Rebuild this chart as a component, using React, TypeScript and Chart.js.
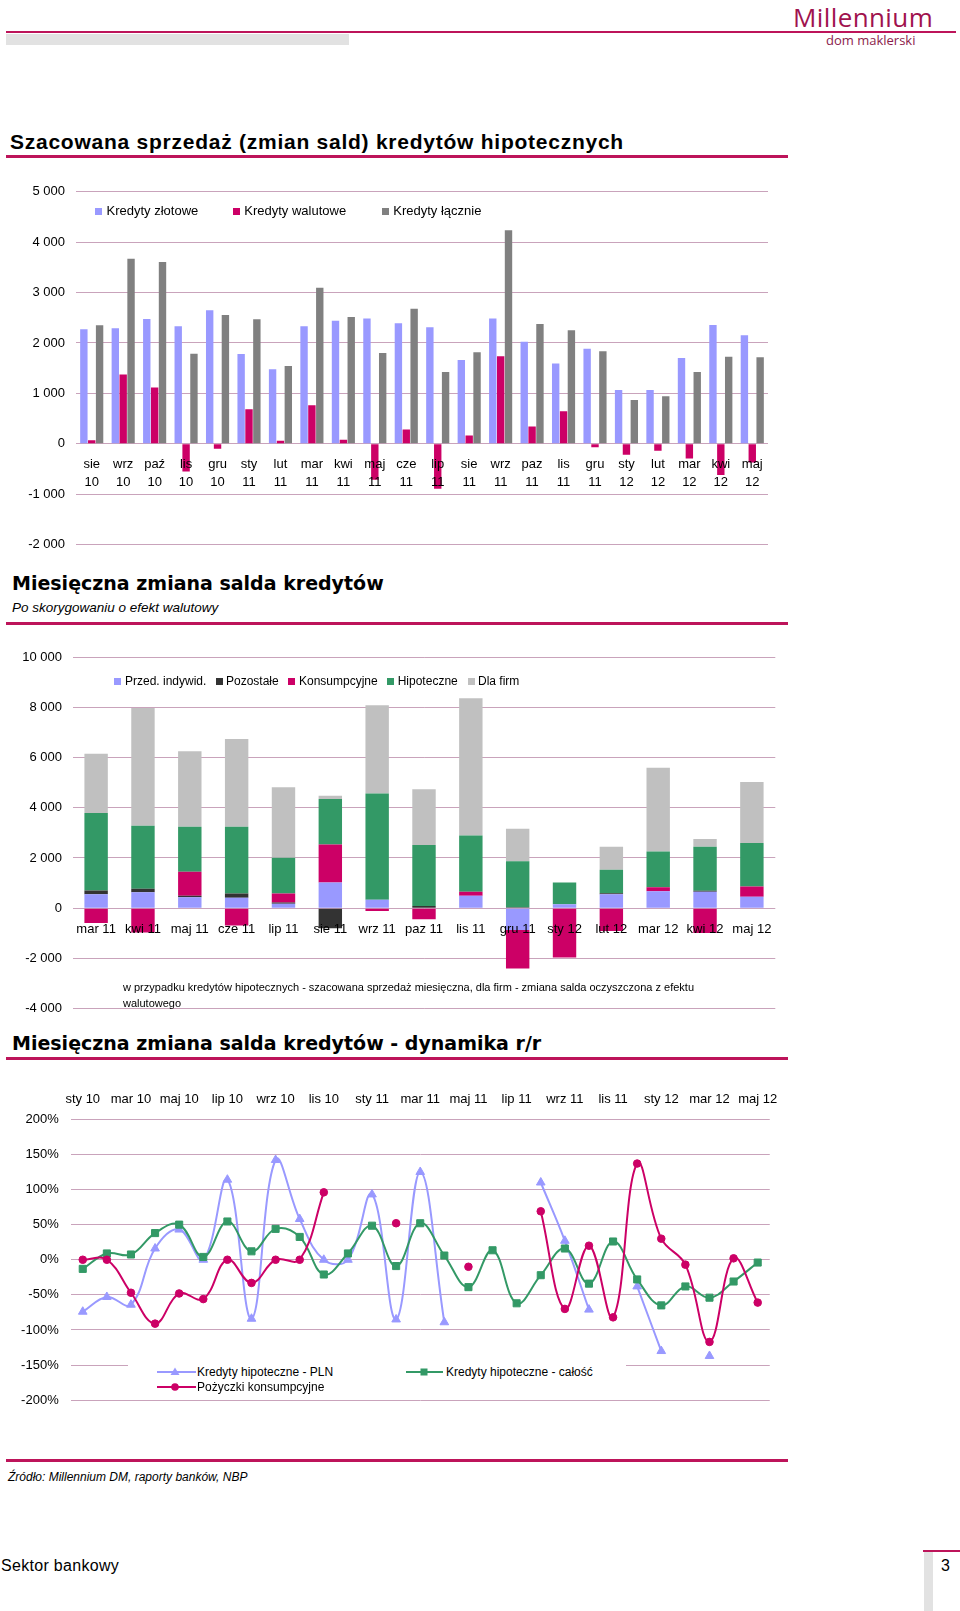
import React, { useEffect, useRef } from 'react';
import { Chart, registerables } from 'chart.js';

Chart.register(...registerables);

const FONT = '"Liberation Sans", Arial, Helvetica, sans-serif';
const TITLE_FONT = '"DejaVu Sans", Verdana, sans-serif';
Chart.defaults.font.family = FONT;
Chart.defaults.color = '#000';

const GRID = '#c9a3bb';
const ACCENT = '#bd145a';
const BLUE = '#9999ff';
const PINK = '#cc0066';
const GREY = '#808080';
const DARK = '#333333';
const GREEN = '#339966';
const LIGHT = '#c0c0c0';

// ---------- Chart 1: Szacowana sprzedaż (zmian sald) kredytów hipotecznych ----------
const months1 = [
  'sie 10', 'wrz 10', 'paź 10', 'lis 10', 'gru 10', 'sty 11', 'lut 11', 'mar 11', 'kwi 11', 'maj 11', 'cze 11',
  'lip 11', 'sie 11', 'wrz 11', 'paz 11', 'lis 11', 'gru 11', 'sty 12', 'lut 12', 'mar 12', 'kwi 12', 'maj 12',
];
const kredytyZlotowe = [2271, 2290, 2475, 2330, 2647, 1782, 1479, 2330, 2442, 2488, 2389, 2310, 1663, 2488, 2026, 1591, 1888, 1069, 1069, 1703, 2356, 2152];
const kredytyWalutowe = [73, 1373, 1115, -548, -99, 686, 59, 766, 79, -713, 284, -891, 165, 1736, 343, 647, -66, -218, -139, -290, -620, -370];
const kredytyLacznie = [2350, 3670, 3604, 1789, 2554, 2469, 1545, 3096, 2515, 1802, 2680, 1426, 1815, 4238, 2376, 2251, 1835, 871, 944, 1426, 1729, 1716];

// ---------- Chart 2: Miesięczna zmiana salda kredytów ----------
const months2 = ['mar 11', 'kwi 11', 'maj 11', 'cze 11', 'lip 11', 'sie 11', 'wrz 11', 'paz 11', 'lis 11', 'gru 11', 'sty 12', 'lut 12', 'mar 12', 'kwi 12', 'maj 12'];
const przedIndywid = [560, 640, 440, 413, 173, 1027, 333, 0, 493, -867, 160, 560, 678, 651, 452];
const pozostale = [147, 133, 53, 174, 54, -800, 0, 90, 0, 40, 0, 40, 0, 40, 0];
const konsumpcyjne = [-585, -970, 960, -693, 360, 1511, -107, -440, 160, -1533, -1960, -907, 159, -983, 412];
const hipoteczne = [3080, 2509, 1790, 2656, 1420, 1808, 4238, 2422, 2244, 1834, 867, 933, 1422, 1754, 1727];
const dlaFirm = [2366, 4691, 3003, 3495, 2804, 132, 3509, 2219, 5462, 1289, 0, 912, 3336, 306, 2432];

// ---------- Chart 3: dynamika r/r ----------
const months3 = [
  'sty 10', 'lut 10', 'mar 10', 'kwi 10', 'maj 10', 'cze 10', 'lip 10', 'sie 10', 'wrz 10', 'paź 10', 'lis 10', 'gru 10',
  'sty 11', 'lut 11', 'mar 11', 'kwi 11', 'maj 11', 'cze 11', 'lip 11', 'sie 11', 'wrz 11', 'paz 11', 'lis 11', 'gru 11',
  'sty 12', 'lut 12', 'mar 12', 'kwi 12', 'maj 12',
];
const hipotecznePLN = [-74, -53, -64, 16, 43, 0, 114, -84, 142, 58, 0, 0, 93, -85, 125, -89, null, null, null, 110, 27, -71, null, -38, -130, null, -137, null, null];
const hipoteczneCalosc = [-13, 9, 7.5, 38, 50, 4, 54.5, 12, 44, 32.5, -21, 9, 48.5, -9, 52, 6, -39, 13.5, -62, -22, 16, -34, 26, -28, -65, -38, -54, -31, -4];
const pozyczkiKonsumpcyjne = [0, 0, -47, -91, -48, -56, 0, -33, 0, 0, 96, null, null, 52, null, null, -10, null, null, 69, -70, 20, -82, 137, 30, -7, -117, 2, -61];

function fmtThousands(v: number) {
  const sign = v < 0 ? '-' : '';
  const a = Math.abs(v);
  if (a >= 1000) return sign + Math.floor(a / 1000) + ' ' + String(a % 1000).padStart(3, '0');
  return sign + a;
}

function ChartBox({ left, top, width, height, make }: any) {
  const ref = useRef<HTMLCanvasElement>(null);
  useEffect(() => {
    const chart = new Chart(ref.current as HTMLCanvasElement, make());
    return () => chart.destroy();
  }, []);
  return (
    <canvas
      ref={ref}
      width={width}
      height={height}
      style={{ position: 'absolute', left, top, width, height, display: 'block' }}
    />
  );
}

const yGrid = { color: GRID, lineWidth: 1, drawTicks: false };

function makeChart1(): any {
  const common = { categoryPercentage: 0.75, barPercentage: 0.94 };
  return {
    type: 'bar',
    data: {
      labels: months1,
      datasets: [
        { label: 'Kredyty złotowe', data: kredytyZlotowe, backgroundColor: BLUE, ...common },
        { label: 'Kredyty walutowe', data: kredytyWalutowe, backgroundColor: PINK, ...common },
        { label: 'Kredyty łącznie', data: kredytyLacznie, backgroundColor: GREY, ...common },
      ],
    },
    options: {
      responsive: false,
      animation: false,
      layout: { padding: { left: 0, top: 21.7, right: 22, bottom: 25.3 } },
      plugins: { legend: { display: false }, tooltip: { enabled: false } },
      scales: {
        x: {
          position: { y: 0 },
          grid: { display: false, drawTicks: false },
          border: { display: false },
          ticks: {
            z: 1,
            autoSkip: false,
            maxRotation: 0,
            padding: 12,
            color: '#000',
            font: { size: 13, lineHeight: 1.385 },
            callback: (_v: any, i: number) => months1[i].split(' '),
          },
        },
        y: {
          min: -2000,
          max: 5000,
          grid: yGrid,
          border: { display: false },
          ticks: { stepSize: 1000, padding: 11, color: '#000', font: { size: 13 }, callback: (v: any) => fmtThousands(v) },
          afterFit: (s: any) => { s.width = 76; },
        },
      },
    },
  };
}

function makeChart2(): any {
  const common = { categoryPercentage: 0.5, barPercentage: 1 };
  return {
    type: 'bar',
    data: {
      labels: months2,
      datasets: [
        { label: 'Przed. indywid.', data: przedIndywid, backgroundColor: BLUE, ...common },
        { label: 'Pozostałe', data: pozostale, backgroundColor: DARK, ...common },
        { label: 'Konsumpcyjne', data: konsumpcyjne, backgroundColor: PINK, ...common },
        { label: 'Hipoteczne', data: hipoteczne, backgroundColor: GREEN, ...common },
        { label: 'Dla firm', data: dlaFirm, backgroundColor: LIGHT, ...common },
      ],
    },
    options: {
      responsive: false,
      animation: false,
      layout: { padding: { left: 0, top: 27, right: 14.7, bottom: 21.3 } },
      plugins: { legend: { display: false }, tooltip: { enabled: false } },
      scales: {
        x: {
          stacked: true,
          position: { y: 0 },
          grid: { display: false, drawTicks: false },
          border: { display: false },
          ticks: { z: 1, autoSkip: false, maxRotation: 0, padding: 13, color: '#000', font: { size: 13 } },
        },
        y: {
          stacked: true,
          min: -4000,
          max: 10000,
          grid: yGrid,
          border: { display: false },
          ticks: { stepSize: 2000, padding: 10.7, color: '#000', font: { size: 13 }, callback: (v: any) => fmtThousands(v) },
          afterFit: (s: any) => { s.width = 72.7; },
        },
      },
    },
  };
}

function makeChart3(): any {
  const line = { borderWidth: 2, tension: 0.4, pointBorderWidth: 1, spanGaps: false };
  return {
    type: 'line',
    data: {
      labels: months3,
      datasets: [
        {
          label: 'Pożyczki konsumpcyjne', data: pozyczkiKonsumpcyjne, borderColor: PINK, backgroundColor: PINK,
          pointStyle: 'circle', pointRadius: 3.8, ...line,
        },
        {
          label: 'Kredyty hipoteczne - całość', data: hipoteczneCalosc, borderColor: GREEN, backgroundColor: GREEN,
          pointStyle: 'rect', pointRadius: 5, ...line,
        },
        {
          label: 'Kredyty hipoteczne - PLN', data: hipotecznePLN, borderColor: BLUE, backgroundColor: BLUE,
          pointStyle: 'triangle', pointRadius: 5, ...line,
        },
      ],
    },
    options: {
      responsive: false,
      animation: false,
      layout: { padding: { left: 0, top: 0, right: 16.7, bottom: 14.7 } },
      plugins: { legend: { display: false }, tooltip: { enabled: false } },
      scales: {
        x: {
          position: 'top',
          offset: true,
          grid: { display: false, drawTicks: false },
          border: { display: false },
          ticks: {
            autoSkip: false,
            maxRotation: 0,
            padding: 12.5,
            color: '#000',
            font: { size: 13 },
            callback: (_v: any, i: number) => (i % 2 === 0 ? months3[i] : ''),
          },
          afterFit: (s: any) => { s.height = 44.3; },
        },
        y: {
          min: -200,
          max: 200,
          grid: yGrid,
          border: { display: false },
          ticks: { stepSize: 50, padding: 12, color: '#000', font: { size: 13 }, callback: (v: any) => v + '%' },
          afterFit: (s: any) => { s.width = 70.7; },
        },
      },
    },
  };
}

function Txt({ x, y, size, children, style }: any) {
  return (
    <div
      style={{
        position: 'absolute', left: x, top: y - 12, height: 24, lineHeight: '24px', fontSize: size,
        whiteSpace: 'nowrap', fontFamily: FONT, color: '#000', ...style,
      }}
    >
      {children}
    </div>
  );
}

function Rule({ x, y, w, h, color }: any) {
  return <div style={{ position: 'absolute', left: x, top: y, width: w, height: h, background: color }} />;
}

function Sq({ x, cy, color }: any) {
  return <div style={{ position: 'absolute', left: x, top: cy - 3.5, width: 7, height: 7, background: color }} />;
}

function LineMarker({ x, cy, w, color, kind }: any) {
  const c = 18;
  return (
    <svg width={w} height={12} style={{ position: 'absolute', left: x, top: cy - 6 }}>
      <line x1={0} y1={6} x2={w} y2={6} stroke={color} strokeWidth={2} />
      {kind === 'tri' && <polygon points={`${c},1.5 ${c + 4.5},9 ${c - 4.5},9`} fill={color} />}
      {kind === 'sq' && <rect x={c - 3.5} y={2.5} width={7} height={7} fill={color} />}
      {kind === 'dot' && <circle cx={c} cy={6} r={3.8} fill={color} />}
    </svg>
  );
}

export default function App() {
  return (
    <div style={{ position: 'absolute', left: 0, top: 0, width: 960, height: 1611, background: '#fff', overflow: 'hidden', fontFamily: FONT }}>
      {/* header */}
      <div style={{ position: 'absolute', left: 793, top: 2, height: 30, lineHeight: '30px', fontSize: 26, letterSpacing: 0.4, fontFamily: '"Open Sans", sans-serif', color: '#a0124e', whiteSpace: 'nowrap' }}>Millennium</div>
      <Rule x={6} y={31} w={950} h={2} color={ACCENT} />
      <Rule x={6} y={34} w={343} h={11} color="#e2e2e2" />
      <div style={{ position: 'absolute', left: 826, top: 32, height: 16, lineHeight: '16px', fontSize: 13, fontFamily: '"Open Sans", sans-serif', color: '#8b1c4c', whiteSpace: 'nowrap' }}>dom maklerski</div>

      {/* chart 1 */}
      <Txt x={10} y={142} size={21} style={{ fontWeight: 'bold', letterSpacing: 0.75 }}>Szacowana sprzedaż (zmian sald) kredytów hipotecznych</Txt>
      <Rule x={6} y={155} w={782} h={3} color={ACCENT} />
      <ChartBox left={0} top={170} width={790} height={400} make={makeChart1} />
      <Sq x={95} cy={211} color={BLUE} />
      <Txt x={106.5} y={211} size={13}>Kredyty złotowe</Txt>
      <Sq x={233.3} cy={211} color={PINK} />
      <Txt x={244.3} y={211} size={13}>Kredyty walutowe</Txt>
      <Sq x={381.7} cy={211} color={GREY} />
      <Txt x={393.3} y={211} size={13}>Kredyty łącznie</Txt>

      {/* chart 2 */}
      <Txt x={12} y={583} size={19} style={{ fontWeight: 'bold', fontFamily: TITLE_FONT }}>Miesięczna zmiana salda kredytów</Txt>
      <Txt x={12} y={608} size={13.5} style={{ fontStyle: 'italic' }}>Po skorygowaniu o efekt walutowy</Txt>
      <Rule x={6} y={622} w={782} h={3} color={ACCENT} />
      <ChartBox left={0} top={630} width={790} height={400} make={makeChart2} />
      <Sq x={114.3} cy={681} color={BLUE} />
      <Txt x={125} y={681} size={12}>Przed. indywid.</Txt>
      <Sq x={216} cy={681} color={DARK} />
      <Txt x={226} y={681} size={12}>Pozostałe</Txt>
      <Sq x={288.3} cy={681} color={PINK} />
      <Txt x={299} y={681} size={12}>Konsumpcyjne</Txt>
      <Sq x={387.3} cy={681} color={GREEN} />
      <Txt x={397.7} y={681} size={12}>Hipoteczne</Txt>
      <Sq x={468.3} cy={681} color={LIGHT} />
      <Txt x={478} y={681} size={12}>Dla firm</Txt>
      <div style={{ position: 'absolute', left: 123, top: 979, lineHeight: '16px', fontSize: 11, color: '#000', whiteSpace: 'nowrap' }}>
        w przypadku kredytów hipotecznych - szacowana sprzedaż miesięczna, dla firm - zmiana salda oczyszczona z efektu
        <br />
        walutowego
      </div>

      {/* chart 3 */}
      <Txt x={12} y={1043} size={19} style={{ fontWeight: 'bold', fontFamily: TITLE_FONT }}>Miesięczna zmiana salda kredytów - dynamika r/r</Txt>
      <Rule x={6} y={1057} w={782} h={3} color={ACCENT} />
      <ChartBox left={0} top={1075} width={790} height={345} make={makeChart3} />
      <div style={{ position: 'absolute', left: 128, top: 1360, width: 498, height: 38, background: '#fff' }} />
      <LineMarker x={157} cy={1372} w={39} color={BLUE} kind="tri" />
      <Txt x={197} y={1372} size={12}>Kredyty hipoteczne - PLN</Txt>
      <LineMarker x={406} cy={1372} w={37} color={GREEN} kind="sq" />
      <Txt x={446} y={1372} size={12}>Kredyty hipoteczne - całość</Txt>
      <LineMarker x={157} cy={1387} w={39} color={PINK} kind="dot" />
      <Txt x={197} y={1387} size={12}>Pożyczki konsumpcyjne</Txt>

      {/* footer */}
      <Rule x={6} y={1459} w={782} h={3} color={ACCENT} />
      <Txt x={8} y={1477} size={12} style={{ fontStyle: 'italic' }}>Źródło: Millennium DM, raporty banków, NBP</Txt>
      <Txt x={1} y={1566} size={16} style={{ letterSpacing: 0.3 }}>Sektor bankowy</Txt>
      <Rule x={923} y={1550} w={37} h={2} color={ACCENT} />
      <Rule x={924} y={1552} w={9} h={59} color="#e2e2e2" />
      <Txt x={941} y={1566} size={16}>3</Txt>
    </div>
  );
}
